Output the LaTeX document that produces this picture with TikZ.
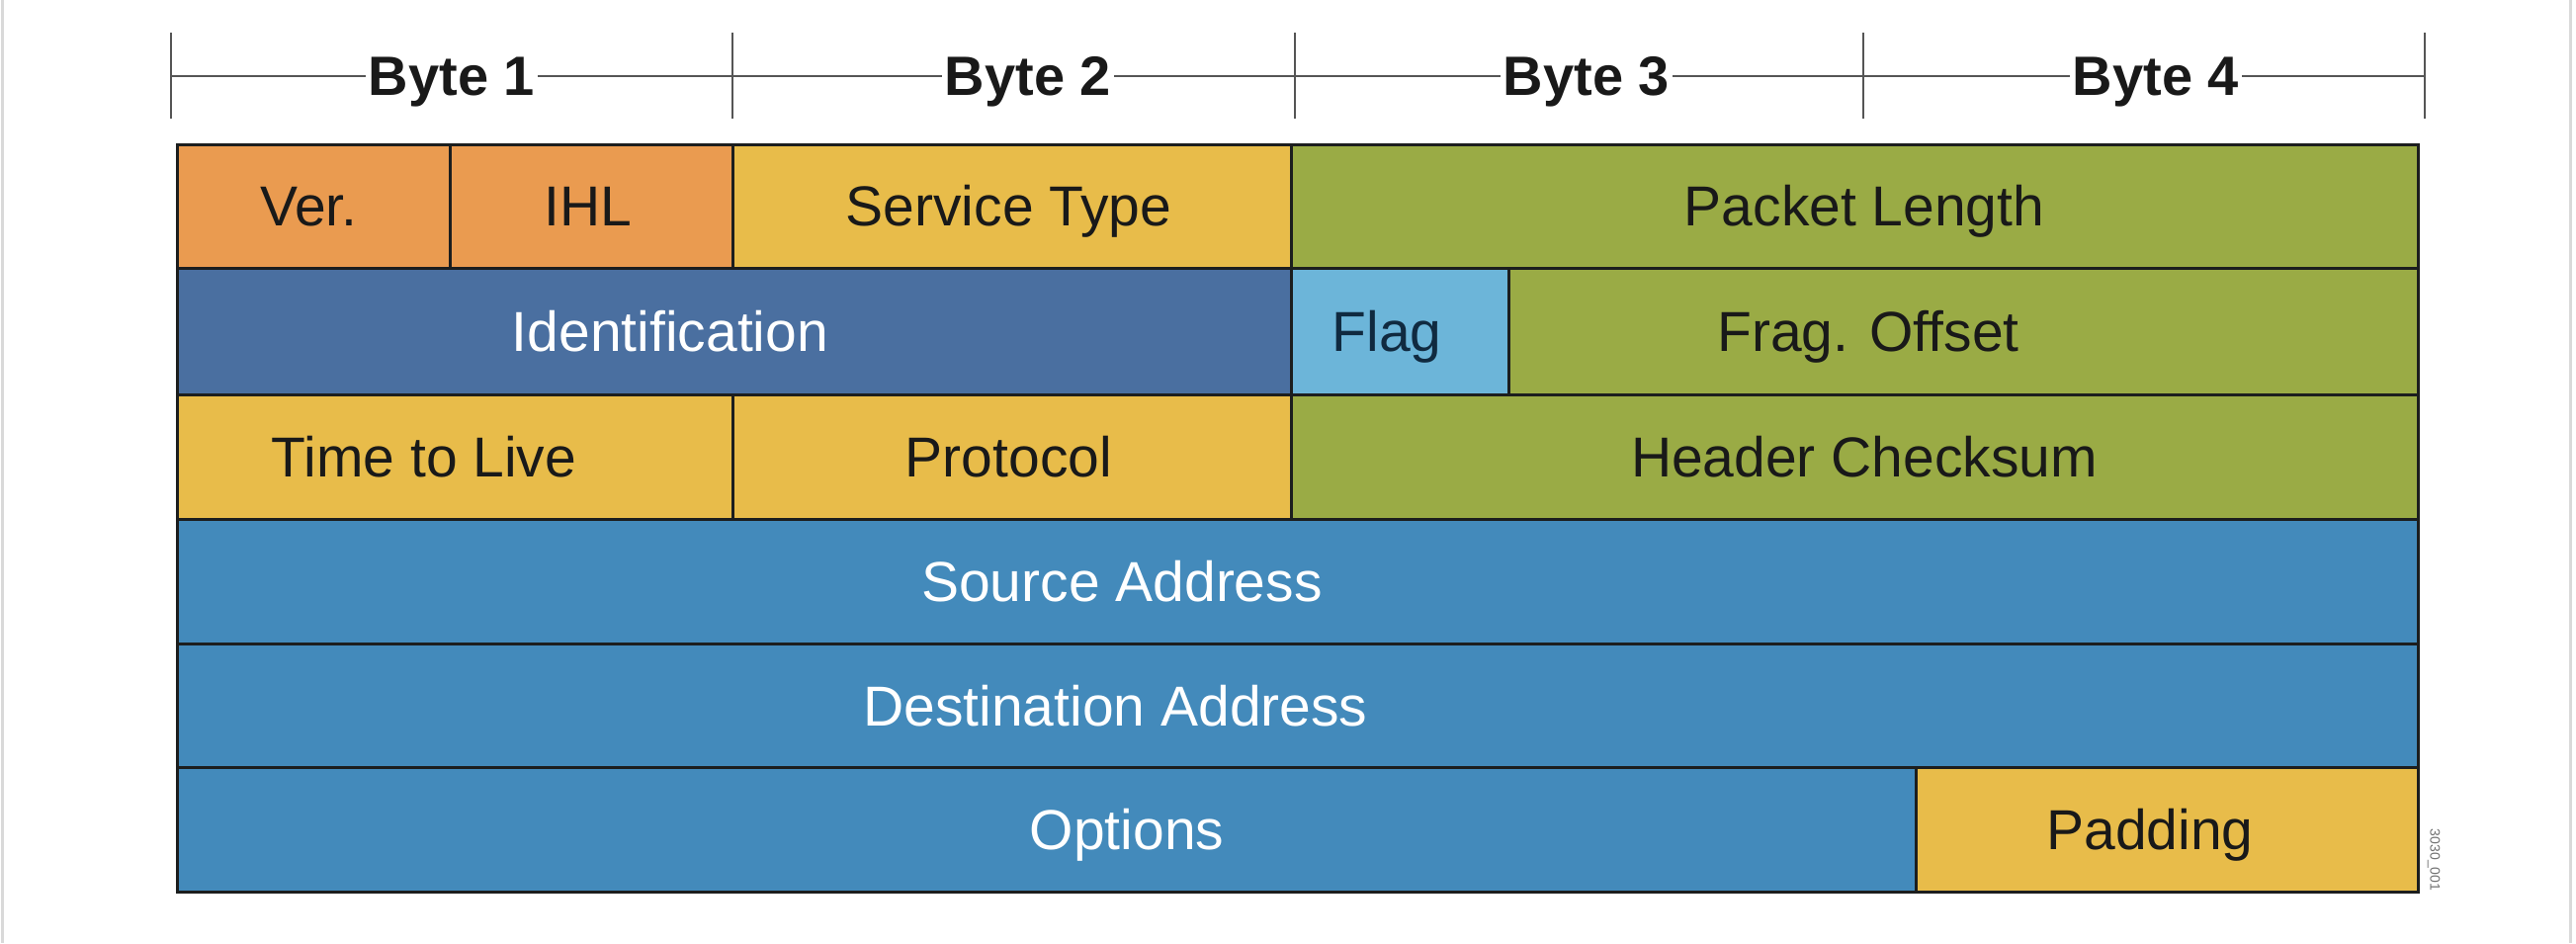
\documentclass[tikz,border=0pt]{standalone}
\usepackage{fontspec}
\setmainfont{Liberation Sans}
\definecolor{cOrange}{RGB}{234,155,80}
\definecolor{cYellow}{RGB}{232,188,74}
\definecolor{cGreen}{RGB}{154,171,69}
\definecolor{cDarkBlue}{RGB}{74,111,160}
\definecolor{cLightBlue}{RGB}{108,181,217}
\definecolor{cBlue}{RGB}{67,138,187}
\definecolor{cBorder}{RGB}{28,30,30}
\definecolor{cRuler}{RGB}{85,85,85}
\definecolor{cFlagText}{RGB}{16,42,64}
\begin{document}
\begin{tikzpicture}[x=0.5pt,y=-0.5pt,
  cell/.style={draw=cBorder,line width=1.5pt},
  lbl/.style={font=\fontsize{28.5}{30}\selectfont,text height=20.4pt,text depth=0pt,inner sep=0pt},
  dark/.style={lbl,text=black!90},
  light/.style={lbl,text=white},
  bytelbl/.style={font=\fontsize{28}{30}\selectfont\bfseries,text=black!90,fill=white,text height=20pt,text depth=0pt,inner xsep=1.5pt,inner ysep=0pt},
  tick/.style={draw=cRuler,line width=1pt},
  frame/.style={draw=black!15,line width=1.5pt}]
\useasboundingbox (0,0) rectangle (2606,954);
\fill[white] (0,0) rectangle (2606,954);
% frame edges
\draw[frame] (2,0) -- (2,954);
\draw[frame] (2600,0) -- (2600,954);
% ruler
\foreach \n/\x in {0/173,1/741,2/1310,3/1885,4/2453}{
  \coordinate (t\n) at (\x,76.5);
  \draw[tick] (\x,33) -- (\x,120);
}
\draw[tick] (t0) -- (t4);
\node[bytelbl] (b1) at (457,76.5) {Byte 1};
\node[bytelbl] (b2) at (1040,76.5) {Byte 2};
\node[bytelbl] (b3) at (1605,76.5) {Byte 3};
\node[bytelbl] (b4) at (2181,76.5) {Byte 4};
% row 1
\filldraw[cell,fill=cOrange] (179.5,146) rectangle (455,271);
\filldraw[cell,fill=cOrange] (455,146) rectangle (741,271);
\filldraw[cell,fill=cYellow] (741,146) rectangle (1306,271);
\filldraw[cell,fill=cGreen] (1306,146) rectangle (2446.5,271);
% row 2
\filldraw[cell,fill=cDarkBlue] (179.5,271) rectangle (1306,399);
\filldraw[cell,fill=cLightBlue] (1306,271) rectangle (1526,399);
\filldraw[cell,fill=cGreen] (1526,271) rectangle (2446.5,399);
% row 3
\filldraw[cell,fill=cYellow] (179.5,399) rectangle (741,525);
\filldraw[cell,fill=cYellow] (741,399) rectangle (1306,525);
\filldraw[cell,fill=cGreen] (1306,399) rectangle (2446.5,525);
% row 4-5
\filldraw[cell,fill=cBlue] (179.5,525) rectangle (2446.5,651.5);
\filldraw[cell,fill=cBlue] (179.5,651.5) rectangle (2446.5,776);
% row 6
\filldraw[cell,fill=cBlue] (179.5,776) rectangle (1938,902.5);
\filldraw[cell,fill=cYellow] (1938,776) rectangle (2446.5,902.5);
% labels
\node[dark] (ver) at (312.5,208.5) {Ver.};
\node[dark] (ihl) at (595,208.5) {IHL};
\node[dark] (tos) at (1020.5,208.5) {Service Type};
\node[dark] (len) at (1886,208.5) {Packet Length};
\node[light] (id) at (678,335) {Identification};
\node[lbl,text=cFlagText] (flag) at (1403,335) {Flag};
\node[dark] (frag) at (1890,335) {Frag. Offset};
\node[dark] (ttl) at (429,462) {Time to Live};
\node[dark] (proto) at (1020.5,462) {Protocol};
\node[dark] (csum) at (1886,462) {Header Checksum};
\node[light] (src) at (1135,588) {Source Address};
\node[light] (dst) at (1128.5,714) {Destination Address};
\node[light] (opt) at (1140,839) {Options};
\node[dark] (pad) at (2175,839) {Padding};
\node[font=\fontsize{7}{8}\selectfont,text=black!55,rotate=-90,inner sep=0pt] (fig) at (2462,870) {3030\_001};
\end{tikzpicture}
\end{document}
